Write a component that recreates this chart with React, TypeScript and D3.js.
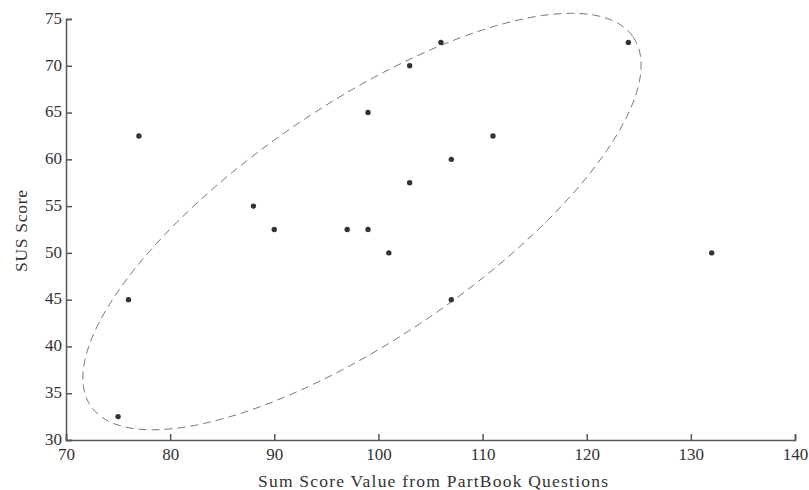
import React, { useEffect, useRef } from "react";
import * as d3 from "d3";

const sumScores = [75, 76, 77, 88, 90, 97, 99, 99, 101, 103, 103, 106, 107, 107, 111, 124, 132];
const susScores = [32.5, 45, 62.5, 55, 52.5, 52.5, 65, 52.5, 50, 70, 57.5, 72.5, 60, 45, 62.5, 72.5, 50];
const xTicks = [70, 80, 90, 100, 110, 120, 130, 140];
const yTicks = [30, 35, 40, 45, 50, 55, 60, 65, 70, 75];
// ellipse in data units: centre, major semi-axis vector, minor semi-axis vector
const ellipseCenter = [98.42, 53.35];
const ellipseMajor = [26.05, 19.71];
const ellipseMinor = [6.32, -10.35];

const W = 809, H = 490;
const M = { left: 66, right: 795, top: 19, bottom: 440 };
const FONT = "'Liberation Serif', serif";

export default function App() {
  const ref = useRef<SVGSVGElement>(null);
  useEffect(() => {
    const svg = d3.select(ref.current);
    svg.selectAll("*").remove();
    const x = d3.scaleLinear().domain([70, 140]).range([M.left, M.right]);
    const y = d3.scaleLinear().domain([30, 75]).range([M.bottom, M.top]);
    const axisColor = "#555";

    // ellipse
    const ts = d3.range(0, 360, 2).map((d) => (d * Math.PI) / 180);
    const ePts = ts.map((t) => [
      ellipseCenter[0] + ellipseMajor[0] * Math.cos(t) + ellipseMinor[0] * Math.sin(t),
      ellipseCenter[1] + ellipseMajor[1] * Math.cos(t) + ellipseMinor[1] * Math.sin(t),
    ]);
    const line = d3.line<number[]>().x((d) => x(d[0])).y((d) => y(d[1])).curve(d3.curveLinearClosed);
    svg.append("path").attr("d", line(ePts)!).attr("fill", "none")
      .attr("stroke", "#777").attr("stroke-width", 1).attr("stroke-dasharray", "8,5");

    // axes
    const xAxis = d3.axisBottom(x).tickValues(xTicks).tickSize(-6).tickPadding(8).tickFormat(d3.format("d"));
    const gx = svg.append("g").attr("transform", `translate(0,${M.bottom})`).call(xAxis);
    const yAxis = d3.axisLeft(y).tickValues(yTicks).tickSize(-6).tickPadding(4).tickFormat(d3.format("d"));
    const gy = svg.append("g").attr("transform", `translate(${M.left},0)`).call(yAxis);
    [gx, gy].forEach((g) => {
      g.select(".domain").attr("stroke", axisColor).attr("stroke-width", 1.5);
      g.selectAll(".tick line").attr("stroke", axisColor).attr("stroke-width", 1.5);
      g.selectAll(".tick text").attr("fill", "#333").style("font-family", FONT).style("font-size", "17px");
    });
    gy.selectAll(".tick text").attr("dy", "0.25em");

    // points
    svg.append("g").selectAll("circle").data(sumScores).join("circle")
      .attr("cx", (d) => x(d)).attr("cy", (d, i) => y(susScores[i])).attr("r", 2.7).attr("fill", "#333");

    // titles
    svg.append("text").attr("x", 433).attr("y", 487).attr("text-anchor", "middle")
      .attr("textLength", 350).attr("lengthAdjust", "spacing")
      .attr("fill", "#333").style("font-family", FONT).style("font-size", "17.5px")
      .text("Sum Score Value from PartBook Questions");
    svg.append("text").attr("transform", `translate(27,231) rotate(-90)`)
      .attr("text-anchor", "middle").attr("textLength", 82).attr("lengthAdjust", "spacing")
      .attr("fill", "#333").style("font-family", FONT).style("font-size", "17.5px")
      .text("SUS Score");
  }, []);
  return (
    <svg ref={ref} width={W} height={H} style={{ position: "absolute", left: 0, top: 0, background: "#fff" }} />
  );
}
